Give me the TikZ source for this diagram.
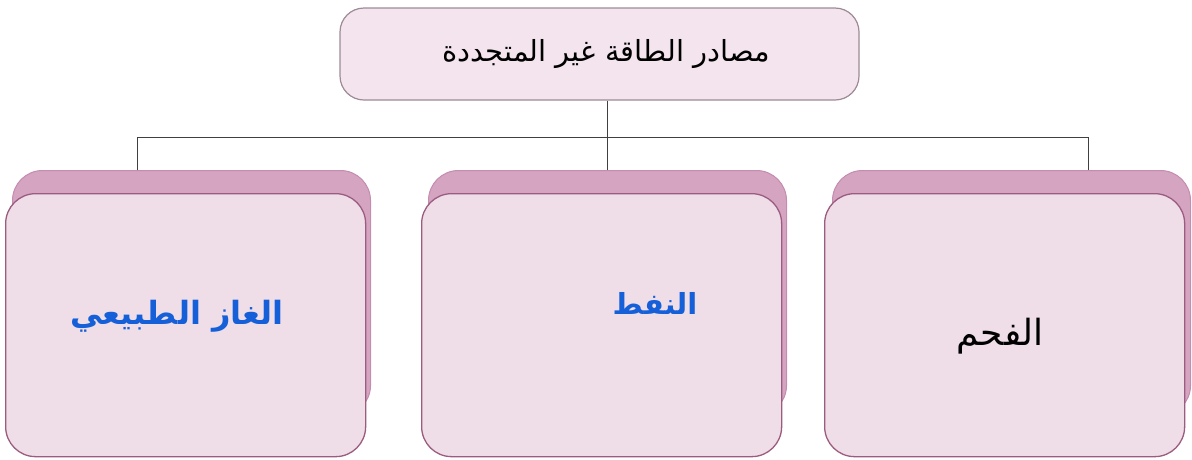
\documentclass[tikz,border=0pt]{standalone}
\usepackage{fontspec}
\usepackage{xcolor}
\usetikzlibrary{positioning, calc}
\TeXXeTstate=1
\newfontfamily\arabicfont[Script=Arabic]{DejaVu Sans}
\definecolor{cTopFill}{RGB}{243,228,237}
\definecolor{cTopLine}{RGB}{158,138,148}
\definecolor{cBoxFill}{RGB}{239,221,232}
\definecolor{cBoxLine}{RGB}{156,92,128}
\definecolor{cTabFill}{RGB}{212,164,193}
\definecolor{cTabLine}{RGB}{196,140,175}
\definecolor{cBlueText}{RGB}{21,96,216}
\tikzset{
	topbox/.style ={rectangle, rounded corners=24pt, minimum width=519pt, minimum height=92pt, draw=cTopLine, line width=1.2pt, fill=cTopFill, align=center, inner sep=0pt},
	tabbox/.style ={rectangle, rounded corners=30pt, minimum width=358pt, minimum height=245pt, draw=cTabLine, line width=1pt, fill=cTabFill, inner sep=0pt},
	leafbox/.style={rectangle, rounded corners=30pt, minimum width=360pt, minimum height=263pt, draw=cBoxLine, line width=1.3pt, fill=cBoxFill, inner sep=0pt},
	conn/.style   ={draw=black!75, line width=1pt},
	lbl/.style    ={font=\arabicfont\fontsize{25}{30}\selectfont, inner sep=0pt},
	bluelbl/.style={inner sep=0pt, text=cBlueText},
}
\begin{document}
\begin{tikzpicture}[x=1pt, y=-1pt]
	\useasboundingbox (0,0) rectangle (1192,459);
	% root box
	\node[topbox] (srcs) at (599.5,54) {};
	\node[lbl, font=\arabicfont\fontsize{29}{34}\selectfont] (srcslbl) at (606,54) {\beginR مصادر الطاقة غير المتجددة\endR};
	% back tabs
	\node[tabbox, anchor=north west] (gastab)  at (12,170)  {};
	\node[tabbox, anchor=north west] (oiltab)  at (428,170) {};
	\node[tabbox, anchor=north west] (coaltab) at (832,170) {};
	% front boxes
	\node[leafbox, anchor=north west] (gas)  at (5,193)   {};
	\node[leafbox, anchor=north west] (oil)  at (421,193) {};
	\node[leafbox, anchor=north west] (coal) at (824,193) {};
	% labels
	\node[bluelbl, font=\arabicfont\bfseries\fontsize{32}{36}\selectfont] (gaslbl) at (177,316) {\beginR الغاز الطبيعي\endR};
	\node[bluelbl, font=\arabicfont\bfseries\fontsize{29}{34}\selectfont] (oillbl) at (655,303) {\beginR النفط\endR};
	\node[lbl, font=\arabicfont\fontsize{36}{40}\selectfont] (coallbl) at (1000,336) {\beginR الفحم\endR};
	% connectors
	\coordinate (hl) at (137,137);
	\coordinate (hr) at (1088,137);
	\draw[conn] (srcs.south -| oiltab.north) -- (oiltab.north);
	\draw[conn] (hl |- gastab.north) -- (hl) -- (hr) -- (hr |- coaltab.north);
\end{tikzpicture}
\end{document}
